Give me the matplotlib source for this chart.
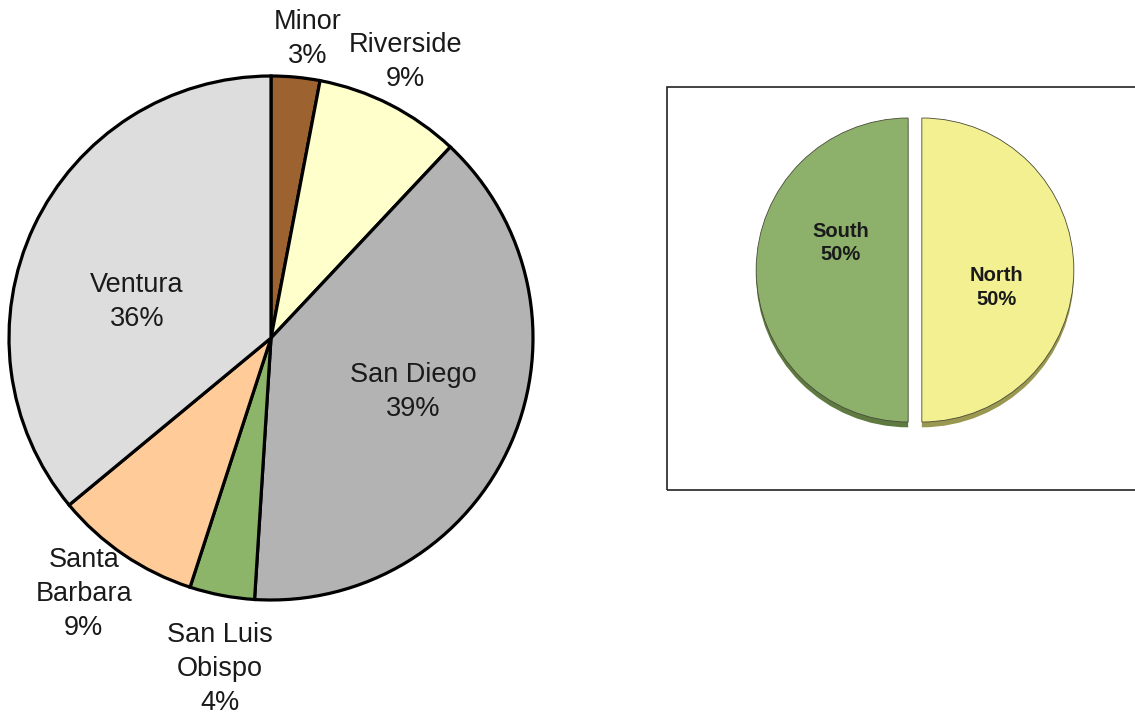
import matplotlib.pyplot as plt
from matplotlib.patches import Rectangle
import numpy as np

plt.rcParams["font.family"] = ["Liberation Sans", "DejaVu Sans"]

# left pie: counties
counties = ["Minor", "Riverside", "San Diego", "San Luis\nObispo", "Santa\nBarbara", "Ventura"]
county_pct = [3, 9, 39, 4, 9, 36]
county_colors = ["#9C6230", "#FFFFCC", "#B3B3B3", "#8DB56A", "#FFCC99", "#DDDDDD"]

# right pie: regions
regions = ["North", "South"]
region_pct = [50, 50]
region_colors = ["#F2F090", "#8DB16B"]
region_shadow = ["#9A9850", "#5E7A40"]

W, H = 1135, 723
fig = plt.figure(figsize=(W / 100, H / 100), dpi=100)


def px_axes(cx, cy, half):
    ax = fig.add_axes([(cx - half) / W, 1 - (cy + half) / H, 2 * half / W, 2 * half / H])
    ax.set_axis_off()
    return ax


# ---- left pie
ax1 = px_axes(271, 338, 275)
wedges, _ = ax1.pie(county_pct, colors=county_colors, startangle=90, counterclock=False,
                    wedgeprops=dict(edgecolor="black", linewidth=2.3))
lim = 275 / 262
ax1.set_xlim(-lim, lim)
ax1.set_ylim(-lim, lim)

# label distance / angle nudge per slice
dist = [1.15, 1.17, 0.58, 1.28, 1.21, 0.53]
nudge = [-1.5, 1, 2.5, 2, -2, 10]
for w, name, p, d, n in zip(wedges, counties, county_pct, dist, nudge):
    ang = np.deg2rad((w.theta1 + w.theta2) / 2 + n)
    ax1.text(d * np.cos(ang), d * np.sin(ang), f"{name}\n{p}%", ha="center", va="center",
             fontsize=19.5, color="#1a1a1a", linespacing=1.4)

# ---- right box
fig.patches.append(Rectangle((667 / W, 1 - 490 / H), 1.0, (490 - 87) / H,
                             transform=fig.transFigure, fill=False,
                             edgecolor="#222222", linewidth=1.2))

# ---- right pie with shadow
ax2 = px_axes(915, 270, 175)
ax2.pie(region_pct, colors=region_shadow, startangle=90, counterclock=False,
        explode=[0.045, 0.045], center=(0, -0.035))
rw, _ = ax2.pie(region_pct, colors=region_colors, startangle=90, counterclock=False,
                explode=[0.045, 0.045],
                wedgeprops=dict(edgecolor="#4a4a3a", linewidth=0.6))
lim2 = 175 / 152
ax2.set_xlim(-lim2, lim2)
ax2.set_ylim(-lim2, lim2)

rdist = [0.55, 0.52]
rnudge = [-12, -20]
for w, name, p, d, n in zip(rw, regions, region_pct, rdist, rnudge):
    ang = np.deg2rad((w.theta1 + w.theta2) / 2 + n)
    ax2.text(d * np.cos(ang), d * np.sin(ang), f"{name}\n{p}%", ha="center", va="center",
             fontsize=14.5, fontweight="bold", color="#1a1a1a", linespacing=1.3)

fig.savefig("out.png", dpi=100)
